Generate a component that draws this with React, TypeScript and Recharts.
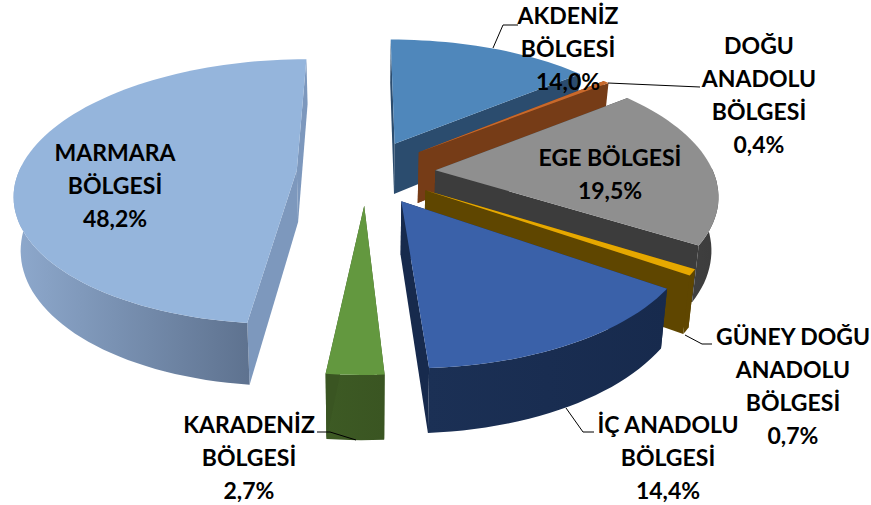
import React from 'react';
import { PieChart, Pie } from 'recharts';

const regions = [
  'AKDENİZ BÖLGESİ',
  'DOĞU ANADOLU BÖLGESİ',
  'EGE BÖLGESİ',
  'GÜNEY DOĞU ANADOLU BÖLGESİ',
  'İÇ ANADOLU BÖLGESİ',
  'KARADENİZ BÖLGESİ',
  'MARMARA BÖLGESİ',
];
const shares = [14.0, 0.4, 19.5, 0.7, 14.4, 2.7, 48.2];

const topColors = ['#4f87bb', '#c9692b', '#8f8f8f', '#e6a800', '#3a61a9', '#63983f', '#95b5dc'];
const wallLight = ['#2b4c6e', '#763c17', '#3f3f3f', '#5f4600', '#1b3055', '#3d5a24', '#8ea9cd'];
const wallDark = ['#2b4c6e', '#763c17', '#3c3c3c', '#5f4600', '#172a4d', '#3a5522', '#5e728f'];
const faceColors = ['#2b4c6e', '#763c17', '#3c3c3c', '#5f4600', '#172a4d', '#3a5522', '#7d98bd'];

// label text lines, split the way the picture wraps them
const labelLines = [
  ['AKDENİZ', 'BÖLGESİ'],
  ['DOĞU', 'ANADOLU', 'BÖLGESİ'],
  ['EGE BÖLGESİ'],
  ['GÜNEY DOĞU', 'ANADOLU', 'BÖLGESİ'],
  ['İÇ ANADOLU', 'BÖLGESİ'],
  ['KARADENİZ', 'BÖLGESİ'],
  ['MARMARA', 'BÖLGESİ'],
];
const labelCenters = [
  { x: 568, y: 16 },
  { x: 759, y: 46 },
  { x: 610, y: 158 },
  { x: 793, y: 337 },
  { x: 668, y: 425 },
  { x: 249, y: 425 },
  { x: 115, y: 153 },
];
const leaderLines = [
  '493,48 503,25 518,25',
  '608,83 700,87',
  '',
  '685,335 702,344 712,344',
  '566,408 583,432 594,432',
  '356,440 330,432 317,432',
  '',
];

const chartData = regions.map((name, i) => ({ name, value: shares[i] }));

const RADIAN = Math.PI / 180;
const TILT = 129.5 / 278; // squash of the disc
const PERSPECTIVE = 0.162;
const EXPLODE = 0.25;
const DEPTH = 52;
const BOTTOM_SHRINK = 0.98;
const LINE_HEIGHT = 33;

type Pt = [number, number];

const pathOf = (pts: Pt[]) =>
  'M' + pts.map((p) => `${p[0].toFixed(1)},${p[1].toFixed(1)}`).join('L') + 'Z';

const Slice3D = (props: any) => {
  const { cx, cy, outerRadius, startAngle, endAngle, index } = props;
  // recharts angles are counter-clockwise from 3 o'clock, turn into clockwise from 12
  const from = 90 - startAngle;
  const to = 90 - endAngle;
  const mid = ((from + to) / 2) * RADIAN;
  const ex = Math.sin(mid) * EXPLODE;
  const ez = -Math.cos(mid) * EXPLODE;

  const project = (x: number, z: number, bottom: boolean): Pt => {
    const w = 1 - PERSPECTIVE * z;
    const shrink = bottom ? BOTTOM_SHRINK : 1;
    const sx = cx + (outerRadius * x * shrink) / w;
    const sy = cy + (outerRadius * TILT * z + (bottom ? DEPTH : 0)) / w;
    return [sx, sy];
  };
  const rim = (deg: number, bottom: boolean) =>
    project(ex + Math.sin(deg * RADIAN), ez - Math.cos(deg * RADIAN), bottom);

  const steps = Math.max(4, Math.ceil((to - from) / 2));
  const arcDegs: number[] = [];
  for (let s = 0; s <= steps; s++) arcDegs.push(from + ((to - from) * s) / steps);

  const apexTop = project(ex, ez, false);
  const apexBottom = project(ex, ez, true);
  const top: Pt[] = [apexTop, ...arcDegs.map((d) => rim(d, false))];

  // only the rim part turned to the viewer gets a wall
  const visible = arcDegs.filter((d) => -Math.cos(d * RADIAN) > -0.05);
  const wall: Pt[] = [
    ...visible.map((d) => rim(d, false)),
    ...[...visible].reverse().map((d) => rim(d, true)),
  ];

  const face = (deg: number): Pt[] => [apexTop, rim(deg, false), rim(deg, true), apexBottom];

  return (
    <g>
      <path d={pathOf(face(from))} fill={faceColors[index]} />
      {visible.length > 1 && <path d={pathOf(wall)} fill={`url(#wall-${index})`} />}
      <path d={pathOf(face(to))} fill={faceColors[index]} />
      <path d={pathOf(top)} fill={topColors[index]} />
    </g>
  );
};

const renderLabel = (props: any) => {
  const { index } = props;
  const lines = [...labelLines[index], `${shares[index].toFixed(1).replace('.', ',')}%`];
  const c = labelCenters[index];
  return (
    <g key={regions[index]}>
      {leaderLines[index] && (
        <polyline points={leaderLines[index]} fill="none" stroke="#000" strokeWidth={1} />
      )}
      <text
        textAnchor="middle"
        fontFamily="Lato, sans-serif"
        fontWeight={700}
        fontSize={23}
        fill="#000"
      >
        {lines.map((line, i) => (
          <tspan key={i} x={c.x} y={c.y + i * LINE_HEIGHT} dy="0.35em">
            {line}
          </tspan>
        ))}
      </text>
    </g>
  );
};

export default function App() {
  return (
    <div style={{ position: 'absolute', left: 0, top: 0, width: 871, height: 505, background: '#fff' }}>
      <PieChart width={871} height={505} margin={{ top: 0, right: 0, bottom: 0, left: 0 }}>
        <defs>
          {regions.map((name, i) => (
            <linearGradient key={name} id={`wall-${i}`} x1="0" y1="0" x2="1" y2="0">
              <stop offset="0%" stopColor={wallLight[i]} />
              <stop offset="100%" stopColor={wallDark[i]} />
            </linearGradient>
          ))}
        </defs>
        <Pie
          data={chartData}
          dataKey="value"
          nameKey="name"
          cx={366}
          cy={172}
          innerRadius={0}
          outerRadius={278}
          startAngle={90}
          endAngle={-270}
          stroke="none"
          shape={Slice3D}
          label={renderLabel}
          labelLine={false}
          isAnimationActive={false}
        />
      </PieChart>
    </div>
  );
}
